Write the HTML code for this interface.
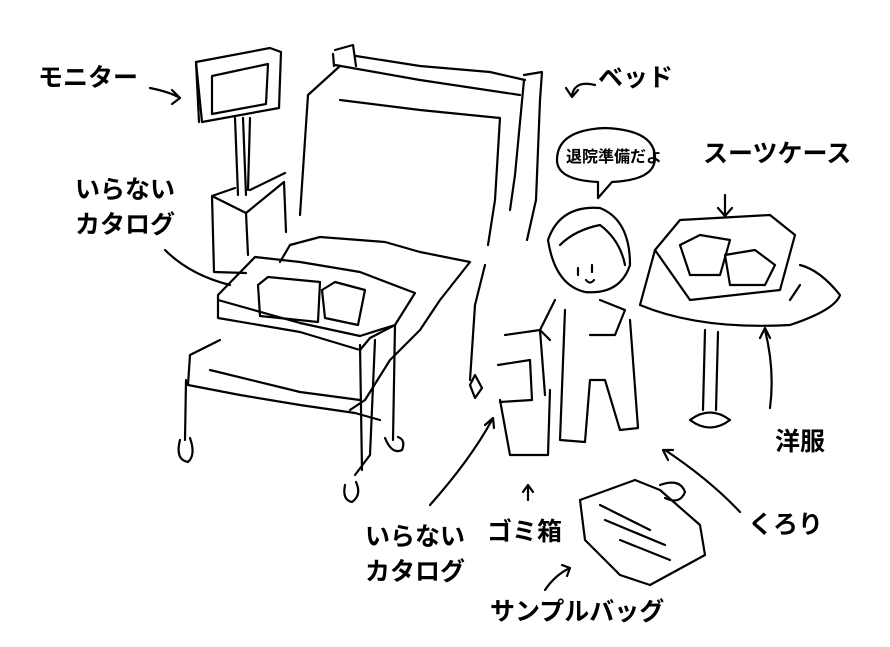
<!DOCTYPE html>
<html><head><meta charset="utf-8"><style>
html,body{margin:0;padding:0;background:#fff;}
.w{position:relative;width:890px;height:647px;overflow:hidden;background:#fff;}
svg{position:absolute;left:0;top:0;}
text{font-family:"Liberation Sans","Noto Sans CJK JP",sans-serif;font-weight:bold;fill:#000;}
</style></head><body><div class="w">
<svg width="890" height="647" viewBox="0 0 890 647" fill="none" stroke="#000" stroke-width="2.2" stroke-linecap="round" stroke-linejoin="round">
<!-- monitor -->
<path d="M196 62 L270 48 L281 52 L279 108 L202 122 Z"/>
<path d="M212 76 L268 64 L266 104 L212 114 Z"/>
<path d="M196 62 L199 122"/>
<path d="M235 118 L238 195 M243 118 L246 195 M250 118 L248 190"/>
<path d="M212 196 L235 188 M250 190 L285 173 M212 196 L246 213 L284 182 M212 196 L214 272 L246 273 M246 213 L248 255 M284 182 L286 232"/>
<!-- bed headboard -->
<path d="M335 50 L353 45 L356 66 M333 54 L334 66 M356 56 L420 66 L490 72 L525 80 M335 65 L420 80 L520 95"/>
<path d="M524 75 L542 72 L540 100 L536 200 L527 240 M524 80 L515 175 L510 210"/>
<path d="M308 95 L340 66 M308 95 L300 215 M340 100 L420 110 L500 118 M500 118 L495 200 L488 245"/>
<!-- mattress -->
<path d="M290 245 L320 237 L385 242 L420 252 L470 262 M290 245 L280 262 M470 262 L440 300 L420 330 L390 360 L365 400 L350 410"/>
<path d="M190 355 L220 340 M190 355 L188 385 L240 395 L300 405 L355 413 L380 420"/>
<path d="M210 370 L300 392 L360 400"/>
<path d="M485 265 L475 305 L470 380 M475 375 L470 385 L475 398 L482 388 Z"/>
<!-- overbed table -->
<path d="M218 295 L255 257 L300 262 L360 272 L415 293 L395 325 L360 336 L300 323 L218 300 Z"/>
<path d="M218 300 L218 318 L300 332 L360 350 L370 338 L395 325"/>
<path d="M258 285 L268 277 L320 282 L318 322 L260 316 Z M322 290 L335 282 L365 290 L358 325 L325 318 Z"/>
<path d="M395 325 L393 440 M375 340 L370 455 L355 475 M360 345 L362 470"/>
<path d="M186 380 L185 440 M180 440 Q175 460 188 462 Q196 455 190 438"/>
<path d="M385 438 Q392 455 402 450 Q406 440 398 437"/>
<path d="M345 485 Q342 500 352 502 Q362 495 356 482"/>
<!-- person -->
<path d="M548 240 Q560 205 600 208 Q630 220 630 265 Q620 295 585 292 Q555 285 548 240 Z"/>
<path d="M560 245 Q575 230 600 225 Q620 240 625 265"/>
<path d="M578 268 L578 275 M592 265 L592 272 M586 280 Q590 285 594 280"/>
<path d="M555 300 L540 330 L550 340 M600 300 L625 310 L615 335 L590 335"/>
<path d="M565 310 L560 440 L585 442 L590 380 L605 380 L620 430 L638 428 L630 320"/>
<!-- trash -->
<path d="M505 335 L540 330 L545 395 M500 400 L510 455 L548 455 L550 390 M498 365 L530 360 L532 400 L500 402"/>
<!-- bubble -->
<path d="M557 160 Q557 130 605 128 Q655 130 655 158 Q655 180 612 182 L598 198 L598 182 Q557 180 557 160 Z"/>
<!-- suitcase -->
<path d="M655 250 L680 220 L770 215 L795 235 L780 290 L690 300 Z"/>
<path d="M680 245 L700 235 L730 240 L720 275 L690 275 Z M725 255 L755 250 L775 265 L765 285 L730 285 Z"/>
<path d="M640 305 Q700 330 790 325 Q835 310 840 295 Q820 270 800 265 M640 305 L655 250 M790 300 L800 285"/>
<path d="M705 330 L703 410 M718 332 L716 410 M690 420 Q710 405 730 420 Q710 435 690 420 Z"/>
<!-- bag -->
<path d="M580 500 L635 480 L660 490 L700 525 L705 555 L650 585 L620 575 L585 540 Z"/>
<path d="M600 505 L650 530 M605 520 L665 545 M620 540 L670 560"/>
<path d="M660 485 Q680 478 685 492 Q680 505 665 498"/>
<!-- arrows -->
<path d="M150 88 Q170 92 180 98 M172 90 L180 98 L172 104"/>
<path d="M595 85 Q575 80 572 95 M566 88 L572 97 L578 90"/>
<path d="M165 250 Q190 275 230 285"/>
<path d="M725 195 L725 215 M718 208 L725 216 L732 208"/>
<path d="M770 408 Q775 370 765 330 M760 338 L765 328 L770 338"/>
<path d="M740 512 Q710 480 665 450 M668 460 L663 450 L673 450"/>
<path d="M430 505 Q470 460 492 420 M485 425 L493 418 L494 428"/>
<path d="M528 500 L528 485 M523 492 L528 485 L533 492"/>
<path d="M545 590 Q555 575 570 568 M562 565 L570 568 L567 576"/>
</svg>
<svg width="890" height="647" viewBox="0 0 890 647">
<text x="38" y="86" font-size="25">モニター</text>
<text x="598" y="86" font-size="25">ベッド</text>
<text x="566" y="162" font-size="16">退院準備だよ</text>
<text x="703" y="162" font-size="25">スーツケース</text>
<text x="75" y="198" font-size="25">いらない</text>
<text x="75" y="233" font-size="25">カタログ</text>
<text x="775" y="450" font-size="25">洋服</text>
<text x="748" y="533" font-size="25">くろり</text>
<text x="365" y="545" font-size="25">いらない</text>
<text x="365" y="580" font-size="25">カタログ</text>
<text x="487" y="540" font-size="25">ゴミ箱</text>
<text x="490" y="620" font-size="25">サンプルバッグ</text>
</svg>
</div></body></html>
